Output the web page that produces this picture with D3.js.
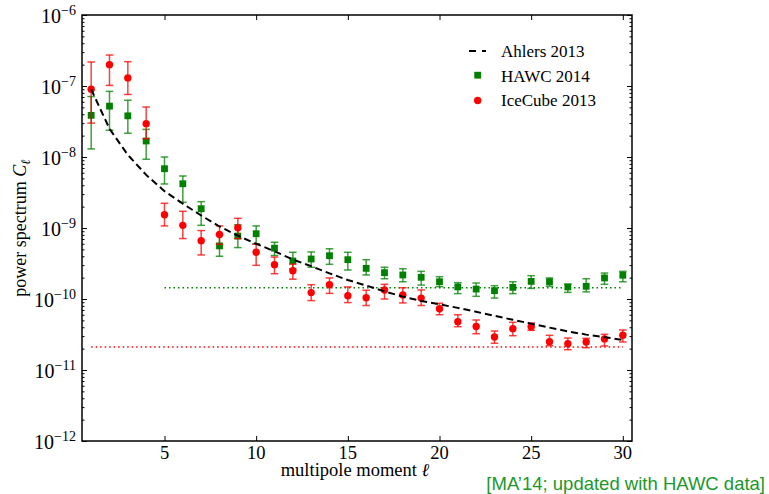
<!DOCTYPE html>
<html>
<head>
<meta charset="utf-8">
<script src="https://cdn.jsdelivr.net/npm/d3@7"></script>
<style>
body { margin:0; background:#fff; }
text { font-family: "Liberation Serif", "DejaVu Serif", serif; fill:#000; }
</style>
</head>
<body>
<svg width="769" height="494"></svg>
<script>
// multipole moments
var ells = d3.range(1, 31);

// HAWC 2014 : value, lower, upper
var hawc   = [3.86e-8,5.2e-8,3.8e-8,1.68e-8,6.84e-9,4.2e-9,1.87e-9,5.6e-10,7.7e-10,8.3e-10,
              5.2e-10,3.43e-10,3.66e-10,4.07e-10,3.58e-10,2.7e-10,2.35e-10,2.18e-10,2.02e-10,1.75e-10,
              1.48e-10,1.38e-10,1.31e-10,1.46e-10,1.77e-10,1.75e-10,1.48e-10,1.51e-10,1.98e-10,2.16e-10];
var hawcLo = [1.3e-8,2.38e-8,2.16e-8,9.3e-9,4.17e-9,2.3e-9,1.09e-9,4.0e-10,5.3e-10,6.0e-10,
              4.1e-10,2.65e-10,2.8e-10,3.08e-10,2.56e-10,2.18e-10,1.93e-10,1.75e-10,1.57e-10,1.49e-10,
              1.19e-10,1.09e-10,1.03e-10,1.19e-10,1.41e-10,1.51e-10,1.24e-10,1.26e-10,1.61e-10,1.75e-10];
var hawcHi = [7.1e-8,8.4e-8,6.3e-8,2.45e-8,1.0e-8,5.4e-9,2.35e-9,8.1e-10,1.11e-9,1.07e-9,
              6.3e-10,4.55e-10,4.6e-10,5.1e-10,4.55e-10,3.58e-10,2.8e-10,2.67e-10,2.45e-10,2.06e-10,
              1.7e-10,1.68e-10,1.54e-10,1.75e-10,2.13e-10,1.98e-10,1.61e-10,1.93e-10,2.32e-10,2.45e-10];

// IceCube 2013 : value, lower, upper
var ice   = [9.0e-8,2.0e-7,1.3e-7,2.95e-8,1.54e-9,1.09e-9,6.6e-10,8.1e-10,1.01e-9,4.55e-10,
             3.04e-10,2.5e-10,1.23e-10,1.59e-10,1.11e-10,1.04e-10,1.34e-10,1.14e-10,1.03e-10,7.3e-11,
             4.79e-11,4.1e-11,2.92e-11,3.82e-11,4.07e-11,2.5e-11,2.34e-11,2.48e-11,2.74e-11,3.08e-11];
var iceLo = [3.0e-8,1.02e-7,7.6e-8,1.81e-8,1.07e-9,7.1e-10,4.17e-10,5.9e-10,7.1e-10,2.98e-10,
             2.27e-10,1.9e-10,9.5e-11,1.2e-10,8.9e-11,8.1e-11,1.0e-10,8.8e-11,8.1e-11,6.0e-11,
             4.07e-11,3.24e-11,2.38e-11,3.04e-11,3.62e-11,2.2e-11,1.93e-11,2.06e-11,2.18e-11,2.48e-11];
var iceHi = [2.18e-7,2.73e-7,2.2e-7,5.06e-8,2.23e-9,1.72e-9,9.2e-10,1.07e-9,1.37e-9,5.9e-10,
             3.9e-10,3.1e-10,1.59e-10,1.98e-10,1.48e-10,1.33e-10,1.61e-10,1.44e-10,1.34e-10,8.7e-11,
             6.0e-11,5.06e-11,3.54e-11,4.7e-11,4.59e-11,3.08e-11,2.82e-11,2.79e-11,3.18e-11,3.66e-11];

// Ahlers 2013 model
var ahlers = [9.0e-8,2.5e-8,1.07e-8,5.6e-9,3.3e-9,2.2e-9,1.5e-9,1.05e-9,7.8e-10,6.0e-10,
              4.7e-10,3.6e-10,2.9e-10,2.3e-10,1.85e-10,1.55e-10,1.28e-10,1.08e-10,9.4e-11,8.4e-11,
              7.5e-11,6.6e-11,5.8e-11,5.1e-11,4.5e-11,3.95e-11,3.5e-11,3.15e-11,2.9e-11,2.65e-11];

// noise levels
var hawcNoise = 1.44e-10, hawcNoiseRange = [5, 30];
var iceNoise = 2.1e-11, iceNoiseRange = [1, 30];

var xTicks = [5, 10, 15, 20, 25, 30];
var yExps = [-12, -11, -10, -9, -8, -7, -6];
var legendNames = ["Ahlers 2013", "HAWC 2014", "IceCube 2013"];

var drawChart = function()
{
  var svg = d3.select("svg");
  var pl = 82, pr = 632, pt = 15, pb = 441;

  var x = d3.scaleLinear().domain([0.5, 30.5]).range([pl, pr]);
  var y = d3.scaleLog().domain([1e-12, 1e-6]).range([pb, pt]);

  var green = "#008000", red = "#ff0000";

  // minor y ticks
  var minor = [];
  yExps.slice(0, -1).forEach(function(e) {
    for (var k = 2; k < 10; k++) minor.push(k * Math.pow(10, e));
  });
  var major = yExps.map(function(e) { return Math.pow(10, e); });

  function noLabel() { return ""; }

  svg.append("g").attr("transform", "translate(" + pl + ",0)")
     .call(d3.axisLeft(y).tickValues(minor).tickSize(-2.5).tickFormat(noLabel));
  svg.append("g").attr("transform", "translate(" + pl + ",0)")
     .call(d3.axisLeft(y).tickValues(major).tickSize(-5).tickFormat(noLabel));
  svg.append("g").attr("transform", "translate(" + pr + ",0)")
     .call(d3.axisRight(y).tickValues(minor).tickSize(-2.5).tickFormat(noLabel));
  svg.append("g").attr("transform", "translate(" + pr + ",0)")
     .call(d3.axisRight(y).tickValues(major).tickSize(-5).tickFormat(noLabel));
  svg.append("g").attr("transform", "translate(0," + pb + ")")
     .call(d3.axisBottom(x).tickValues(xTicks).tickSize(-5).tickFormat(noLabel));
  svg.append("g").attr("transform", "translate(0," + pt + ")")
     .call(d3.axisTop(x).tickValues(xTicks).tickSize(-5).tickFormat(noLabel));

  svg.selectAll(".domain").remove();
  svg.selectAll(".tick line").attr("stroke", "#000").attr("stroke-width", 1);

  // frame
  svg.append("rect")
     .attr("x", pl).attr("y", pt)
     .attr("width", pr - pl).attr("height", pb - pt)
     .attr("fill", "none").attr("stroke", "#000").attr("stroke-width", 1.5);

  // y tick labels 10^e
  var yl = svg.append("g");
  yExps.forEach(function(e) {
    var t = yl.append("text")
              .attr("x", pl - 6)
              .attr("y", y(Math.pow(10, e)) + 8)
              .attr("text-anchor", "end")
              .style("font-size", "20px");
    t.append("tspan").text("10");
    t.append("tspan").attr("dy", -8).style("font-size", "14px").text("\u2212" + Math.abs(e));
  });

  // x tick labels
  svg.selectAll(".xlab")
     .data(xTicks)
     .enter()
     .append("text")
     .attr("x", function(d) { return x(d); })
     .attr("y", pb + 18)
     .attr("text-anchor", "middle")
     .style("font-size", "18.5px")
     .text(function(d) { return d; });

  // axis titles
  var xt = svg.append("text")
              .attr("x", (pl + pr) / 2 - 2)
              .attr("y", pb + 35)
              .attr("text-anchor", "middle")
              .style("font-size", "18.5px");
  xt.append("tspan").text("multipole moment ");
  xt.append("tspan").style("font-style", "italic").text("\u2113");

  var yt = svg.append("text")
              .attr("transform", "translate(26," + ((pt + pb) / 2) + ") rotate(-90)")
              .attr("text-anchor", "middle")
              .style("font-size", "18px");
  yt.append("tspan").text("power spectrum ");
  yt.append("tspan").style("font-style", "italic").text("C");
  yt.append("tspan").attr("dy", 4).style("font-size", "13px").style("font-style", "italic").text("\u2113");

  // noise lines
  svg.append("line")
     .attr("x1", x(hawcNoiseRange[0])).attr("x2", x(hawcNoiseRange[1]))
     .attr("y1", y(hawcNoise)).attr("y2", y(hawcNoise))
     .attr("stroke", green).attr("stroke-width", 1.5).attr("stroke-dasharray", "1.5,3");
  svg.append("line")
     .attr("x1", x(iceNoiseRange[0])).attr("x2", x(iceNoiseRange[1]))
     .attr("y1", y(iceNoise)).attr("y2", y(iceNoise))
     .attr("stroke", red).attr("stroke-width", 1.5).attr("stroke-dasharray", "1.5,3");

  // error bars + markers
  function drawSeries(vals, lo, hi, color, shape) {
    var g = svg.append("g");
    var eb = g.selectAll(".eb")
              .data(ells)
              .enter()
              .append("g")
              .attr("stroke", color)
              .attr("stroke-opacity", 0.75)
              .attr("stroke-width", 1.5);
    eb.append("line")
      .attr("x1", function(d) { return x(d); })
      .attr("x2", function(d) { return x(d); })
      .attr("y1", function(d, i) { return y(lo[i]); })
      .attr("y2", function(d, i) { return y(hi[i]); });
    eb.append("line")
      .attr("x1", function(d) { return x(d) - 3.8; })
      .attr("x2", function(d) { return x(d) + 3.8; })
      .attr("y1", function(d, i) { return y(lo[i]); })
      .attr("y2", function(d, i) { return y(lo[i]); });
    eb.append("line")
      .attr("x1", function(d) { return x(d) - 3.8; })
      .attr("x2", function(d) { return x(d) + 3.8; })
      .attr("y1", function(d, i) { return y(hi[i]); })
      .attr("y2", function(d, i) { return y(hi[i]); });

    if (shape == "square") {
      g.selectAll(".m")
       .data(ells)
       .enter()
       .append("rect")
       .attr("x", function(d) { return x(d) - 3.4; })
       .attr("y", function(d, i) { return y(vals[i]) - 3.4; })
       .attr("width", 6.8)
       .attr("height", 6.8)
       .attr("fill", color);
    } else {
      g.selectAll(".m")
       .data(ells)
       .enter()
       .append("circle")
       .attr("cx", function(d) { return x(d); })
       .attr("cy", function(d, i) { return y(vals[i]); })
       .attr("r", 3.7)
       .attr("fill", color);
    }
  }

  drawSeries(hawc, hawcLo, hawcHi, green, "square");
  drawSeries(ice, iceLo, iceHi, red, "circle");

  // Ahlers model
  var line = d3.line()
               .x(function(d, i) { return x(ells[i]); })
               .y(function(d) { return y(d); });
  svg.append("path")
     .datum(ahlers)
     .attr("d", line)
     .attr("fill", "none")
     .attr("stroke", "#000")
     .attr("stroke-width", 2)
     .attr("stroke-dasharray", "7,4");

  // legend
  var lg = svg.append("g");
  lg.append("line")
    .attr("x1", 469).attr("x2", 486).attr("y1", 51).attr("y2", 51)
    .attr("stroke", "#000").attr("stroke-width", 2).attr("stroke-dasharray", "7,6");
  lg.append("rect").attr("x", 474.3).attr("y", 71.8).attr("width", 6.8).attr("height", 6.8).attr("fill", green);
  lg.append("circle").attr("cx", 477.7).attr("cy", 100.5).attr("r", 3.7).attr("fill", red);
  lg.selectAll(".lt")
    .data(legendNames)
    .enter()
    .append("text")
    .attr("x", 501)
    .attr("y", function(d, i) { return 57 + i * 24.5; })
    .style("font-size", "17px")
    .text(function(d) { return d; });

  // note
  svg.append("text")
     .attr("x", 765)
     .attr("y", 490)
     .attr("text-anchor", "end")
     .style("font-family", "'Liberation Sans', Arial, sans-serif")
     .style("font-size", "18.5px")
     .style("fill", "#22972a")
     .text("[MA\u201914; updated with HAWC data]");
}

drawChart();
</script>
</body>
</html>
